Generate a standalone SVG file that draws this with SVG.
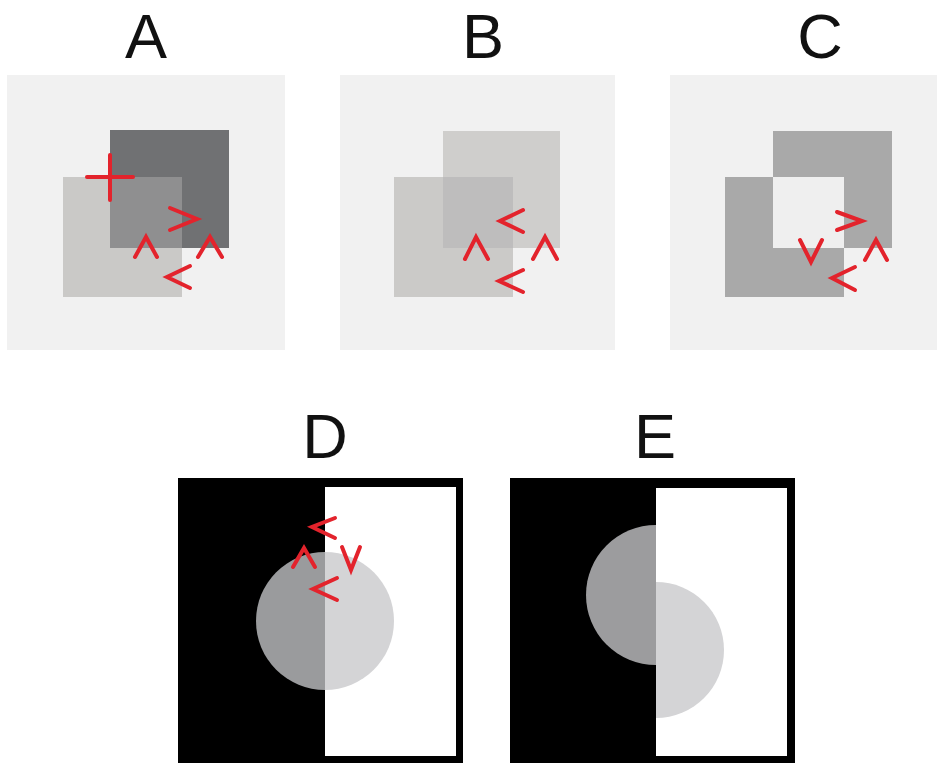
<svg xmlns="http://www.w3.org/2000/svg" width="937" height="763" viewBox="0 0 937 763">
<style>
.lbl{font-family:"Liberation Sans",Arial,sans-serif;font-size:63px;fill:#111;text-anchor:middle}
.lbl2{font-family:"Liberation Sans",Arial,sans-serif;font-size:63px;fill:#111;text-anchor:middle}
.bg{fill:#f1f1f1}
.mk{fill:none;stroke:#e3232c;stroke-width:4;stroke-linecap:round;stroke-linejoin:miter}
</style>
<rect width="937" height="763" fill="#fff"/>
<g id="panelA">
<text class="lbl" x="146" y="58">A</text>
<rect class="bg" x="7" y="75" width="278" height="275"/>
<rect x="110" y="130" width="119" height="118" fill="#707173"/>
<rect x="63" y="177" width="119" height="120" fill="#cac9c7"/>
<rect x="110" y="177" width="72" height="71" fill="#8f8f90"/>
<path class="mk" d="M87,177H133M110,155V200" stroke-width="4.5"/>
<polyline class="mk" points="170,208 197,219 170,230"/>
<polyline class="mk" points="135,257 146,237 157,257"/>
<polyline class="mk" points="198,257 210,237 222,257"/>
<polyline class="mk" points="190,266 167,277 190,288"/>
</g>
<g id="panelB">
<text class="lbl" x="483" y="58">B</text>
<rect class="bg" x="340" y="75" width="275" height="275"/>
<rect x="443" y="131" width="117" height="117" fill="#cfcecc"/>
<rect x="394" y="177" width="119" height="120" fill="#cbcac8"/>
<rect x="443" y="177" width="70" height="71" fill="#bebdbd"/>
<polyline class="mk" points="523,210 500,221 523,232"/>
<polyline class="mk" points="465,259 476,237 488,259"/>
<polyline class="mk" points="533,259 545,237 557,259"/>
<polyline class="mk" points="523,270 499,281 523,292"/>
</g>
<g id="panelC">
<text class="lbl" x="820" y="58">C</text>
<rect class="bg" x="670" y="75" width="267" height="275"/>
<rect x="773" y="131" width="119" height="117" fill="#a9a9a9"/>
<rect x="725" y="177" width="119" height="120" fill="#a9a9a9"/>
<rect x="773" y="177" width="71" height="71" fill="#efefef"/>
<polyline class="mk" points="837,212 862,221 837,230"/>
<polyline class="mk" points="800,240 811,262 822,240"/>
<polyline class="mk" points="865,260 876,240 887,260"/>
<polyline class="mk" points="855,267 832,278 855,290"/>
</g>
<g id="panelD">
<text class="lbl2" x="325" y="458">D</text>
<rect x="178" y="478" width="285" height="285" fill="#000"/>
<rect x="325" y="487" width="131" height="269" fill="#fff"/>
<path d="M325,552A69,69 0 0 0 325,690Z" fill="#9a9b9d"/>
<path d="M325,552A69,69 0 0 1 325,690Z" fill="#d4d4d6"/>
<polyline class="mk" points="335,518 312,527 335,538"/>
<polyline class="mk" points="293,567 304,548 315,567"/>
<polyline class="mk" points="342,547 351,570 360,547"/>
<polyline class="mk" points="337,578 313,589 337,600"/>
</g>
<g id="panelE">
<text class="lbl2" x="655" y="458">E</text>
<rect x="510" y="478" width="285" height="285" fill="#000"/>
<rect x="656" y="488" width="131" height="268" fill="#fff"/>
<path d="M656,525A70,70 0 0 0 656,665Z" fill="#9c9c9e"/>
<path d="M656,582A68,68 0 0 1 656,718Z" fill="#d4d4d6"/>
</g>
<g id="connectors"/>
</svg>
